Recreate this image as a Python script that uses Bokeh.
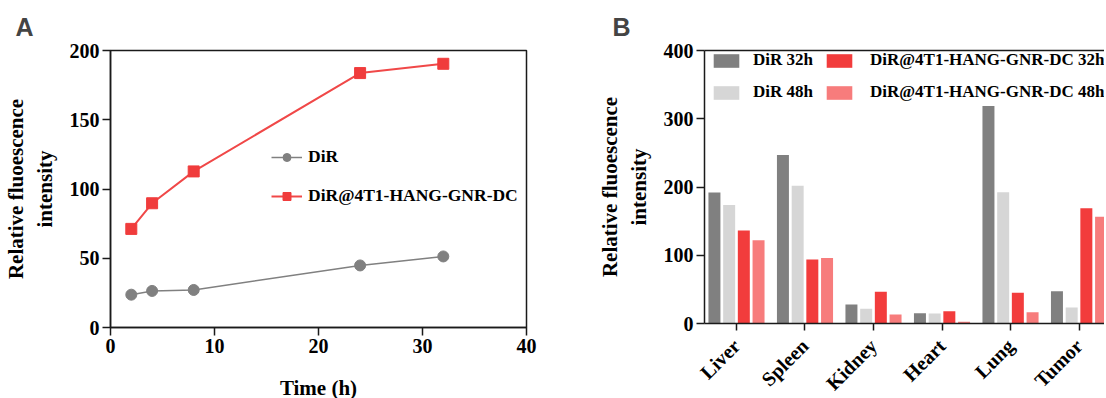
import math
from bokeh.plotting import figure
from bokeh.layouts import row
from bokeh.models import (ColumnDataSource, Legend, LegendItem, FixedTicker,
                          LinearAxis, Range1d)
from bokeh.transform import dodge
from bokeh.embed import file_html
from bokeh.resources import INLINE

SERIF = "'Liberation Serif'"
SANS = "'Liberation Sans'"

# ---- Panel A data ----
time_h = [2, 4, 8, 24, 32]
dir_vals = [23.7, 26.4, 27.1, 44.8, 51.3]
hang_vals = [71.2, 89.7, 112.7, 183.7, 190.4]
a_xticks = [0, 10, 20, 30, 40]
a_yticks = [0, 50, 100, 150, 200]

# ---- Panel B data ----
organs = ["Liver", "Spleen", "Kidney", "Heart", "Lung", "Tumor"]
dir32 = [192, 247, 27.9, 15.2, 318.8, 47.4]
dir48 = [173.6, 202, 21.5, 14.7, 192.2, 23.5]
hang32 = [136.4, 93.9, 46.5, 18.1, 45.0, 168.7]
hang48 = [121.8, 95.8, 13.2, 2.4, 16.6, 156.5]
b_yticks = [0, 100, 200, 300, 400]

AXC = "#1a1a1a"


def style_axis(ax, tick_size="20px", label_size="21px"):
    ax.axis_line_color = AXC
    ax.axis_line_width = 1.5
    ax.major_tick_line_color = AXC
    ax.major_tick_line_width = 1.5
    ax.major_tick_out = 8
    ax.major_tick_in = 0
    ax.minor_tick_line_color = None
    ax.major_label_text_font = SERIF
    ax.major_label_text_font_style = "bold"
    ax.major_label_text_font_size = tick_size
    ax.major_label_text_color = "black"
    ax.major_label_standoff = 3
    ax.axis_label_text_font = SERIF
    ax.axis_label_text_font_style = "bold"
    ax.axis_label_text_font_size = label_size
    ax.axis_label_text_color = "black"


# ================= Panel A =================
pA = figure(frame_width=416, frame_height=277, x_range=Range1d(0, 40), y_range=Range1d(0, 200),
            output_backend="svg", toolbar_location=None, title="A",
            min_border_left=102, min_border_right=34, min_border_top=50,
            min_border_bottom=64)
pA.grid.visible = False
pA.outline_line_color = AXC
pA.outline_line_width = 1.5
pA.title.align = "left"
pA.title.offset = -95
pA.title.text_font = SANS
pA.title.text_font_size = "25px"
pA.title.text_font_style = "bold"
pA.title.standoff = 19

pA.xaxis.ticker = FixedTicker(ticks=a_xticks)
pA.yaxis.ticker = FixedTicker(ticks=a_yticks)
style_axis(pA.xaxis[0])
style_axis(pA.yaxis[0])
pA.xaxis.axis_label = "Time (h)"
pA.yaxis.axis_label = "Relative fluoescence\nintensity"
pA.yaxis.axis_label_standoff = 10
pA.xaxis.axis_label_standoff = 20

srcA = ColumnDataSource(dict(t=time_h, d=dir_vals, h=hang_vals))
ra1 = pA.line("t", "d", source=srcA, line_color="#808080", line_width=1.5)
ra2 = pA.scatter("t", "d", source=srcA, marker="circle", size=11,
                 fill_color="#808080", line_color="#808080")
ra3 = pA.line("t", "h", source=srcA, line_color="#f04848", line_width=2)
ra4 = pA.scatter("t", "h", source=srcA, marker="square", size=11,
                 fill_color="#f03c3c", line_color="#f03c3c")

legA = Legend(items=[LegendItem(label="DiR", renderers=[ra1, ra2]),
                     LegendItem(label="DiR@4T1-HANG-GNR-DC", renderers=[ra3, ra4])],
              location=(161, 121), glyph_width=31, glyph_height=20, label_height=20,
              spacing=18, padding=0, margin=0, label_standoff=6,
              border_line_color=None, background_fill_alpha=0,
              label_text_font=SERIF, label_text_font_style="bold",
              label_text_font_size="17.5px", label_text_color="black")
pA.add_layout(legA)

# ================= Panel B =================
pB = figure(frame_width=400, frame_height=273, x_range=Range1d(-0.467, 5.372), y_range=Range1d(0, 400),
            output_backend="svg", toolbar_location=None, title="B",
            min_border_left=144, min_border_right=0, min_border_top=49,
            min_border_bottom=66)
pB.grid.visible = False
pB.outline_line_color = None
pB.title.align = "left"
pB.title.offset = -92
pB.title.text_font = SANS
pB.title.text_font_size = "25px"
pB.title.text_font_style = "bold"
pB.title.standoff = 19

pB.xaxis.ticker = FixedTicker(ticks=list(range(len(organs))))
pB.xaxis.major_label_overrides = {i: o for i, o in enumerate(organs)}
pB.yaxis.ticker = FixedTicker(ticks=b_yticks)
style_axis(pB.xaxis[0], tick_size="20px")
style_axis(pB.yaxis[0])
pB.xaxis.major_label_orientation = math.pi / 4
pB.xaxis.major_tick_out = 7
pB.xaxis.major_label_standoff = 12
pB.yaxis.axis_label = "Relative fluoescence\nintensity"
pB.yaxis.axis_label_standoff = 10

top_ax = LinearAxis(ticker=FixedTicker(ticks=[]))
top_ax.axis_line_color = AXC
top_ax.axis_line_width = 1.5
top_ax.major_tick_line_color = None
top_ax.minor_tick_line_color = None
top_ax.major_label_text_font_size = "0px"
pB.add_layout(top_ax, "above")

srcB = ColumnDataSource(dict(x=list(range(len(organs))), dir32=dir32, dir48=dir48,
                             hang32=hang32, hang48=hang48))
bw = 0.175
specs = [("dir32", -0.322, "#808080"), ("dir48", -0.107, "#d6d6d6"),
         ("hang32", 0.107, "#f23c3c"), ("hang48", 0.322, "#f77c7c")]
rb = {}
for key, off, col in specs:
    rb[key] = pB.vbar(x=dodge("x", off, range=pB.x_range), top=key, width=bw,
                      bottom=0, source=srcB, fill_color=col, line_color=None)

common = dict(glyph_width=32, glyph_height=17, label_height=17, spacing=12,
              padding=0, margin=0, border_line_color=None, background_fill_alpha=0,
              label_text_font=SERIF, label_text_font_style="bold",
              label_text_font_size="17px", label_text_color="black")
legB1 = Legend(items=[LegendItem(label="DiR 32h", renderers=[rb["dir32"]]),
                      LegendItem(label="DiR 48h", renderers=[rb["dir48"]])],
               location=(6, 221), label_standoff=11, **common)
legB2 = Legend(items=[LegendItem(label="DiR@4T1-HANG-GNR-DC 32h", renderers=[rb["hang32"]]),
                      LegendItem(label="DiR@4T1-HANG-GNR-DC 48h", renderers=[rb["hang48"]])],
               location=(119, 221), label_standoff=15, **common)
pB.add_layout(legB1)
pB.add_layout(legB2)

layout = row(pA, pB)
open("out.html", "w").write(file_html(layout, INLINE))
